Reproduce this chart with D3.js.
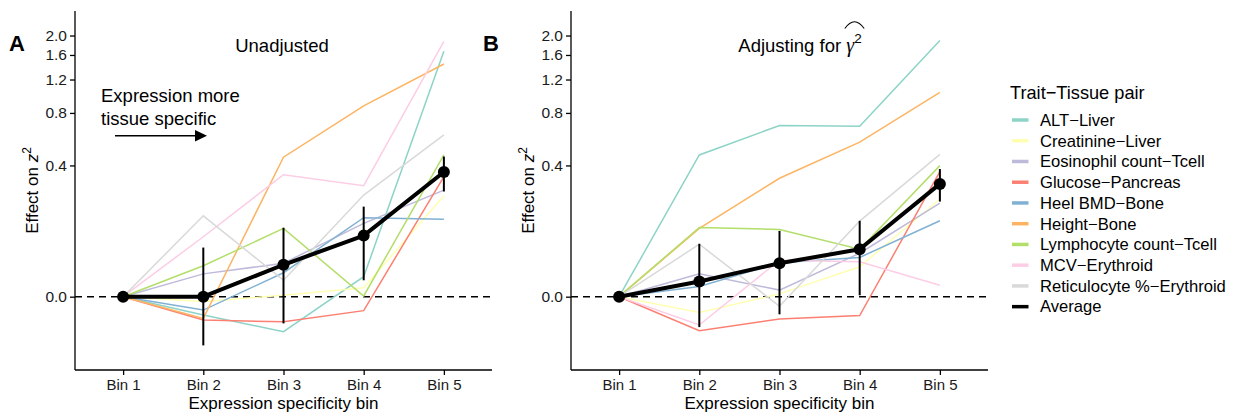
<!DOCTYPE html>
<html><head><meta charset="utf-8">
<script src="https://cdn.jsdelivr.net/npm/d3@7"></script>
<style>body{margin:0;background:#fff}svg{font-family:"Liberation Sans",Arial,Helvetica,sans-serif}</style>
</head><body><svg id="c" width="1241" height="415"></svg>
<script>
// ---------- data ----------
const bins = ["Bin 1", "Bin 2", "Bin 3", "Bin 4", "Bin 5"];
const pairs = ["ALT\u2212Liver", "Creatinine\u2212Liver", "Eosinophil count\u2212Tcell", "Glucose\u2212Pancreas",
  "Heel BMD\u2212Bone", "Height\u2212Bone", "Lymphocyte count\u2212Tcell", "MCV\u2212Erythroid", "Reticulocyte %\u2212Erythroid"];
const pairColors = ["#8DD3C7", "#FFFFB3", "#BEBADA", "#FB8072", "#80B1D3", "#FDB462", "#B3DE69", "#FCCDE5", "#D9D9D9"];
const yTickValues = [0, 0.4, 0.8, 1.2, 1.6, 2.0];

// Panel A: unadjusted
const unadjALT = [0, -0.028, -0.059, 0.031, 1.67];
const unadjCreatinine = [0, -0.007, 0.002, 0.013, 0.253];
const unadjEosinophil = [0, 0.036, 0.056, 0.155, 0.277];
const unadjGlucose = [0, -0.037, -0.040, -0.021, 0.34];
const unadjHeelBMD = [0, -0.020, 0.038, 0.173, 0.168];
const unadjHeight = [0, -0.034, 0.449, 0.874, 1.44];
const unadjLymphocyte = [0, 0.051, 0.140, 0.001, 0.463];
const unadjMCV = [0, 0.117, 0.350, 0.297, 1.87];
const unadjReticulocyte = [0, 0.179, 0.025, 0.256, 0.606];
const unadjAverage = [0, 0.0, 0.053, 0.120, 0.364];
const unadjLower = [0, -0.089, -0.043, 0.025, 0.271];
const unadjUpper = [0, 0.090, 0.142, 0.211, 0.453];

// Panel B: adjusting for gamma-hat^2
const adjALT = [0, 0.463, 0.683, 0.676, 1.89];
const adjCreatinine = [0, -0.024, 0.004, 0.049, 0.240];
const adjEosinophil = [0, 0.036, 0.0095, 0.077, 0.224];
const adjGlucose = [0, -0.057, -0.035, -0.029, 0.366];
const adjHeelBMD = [0, 0.015, 0.057, 0.068, 0.163];
const adjHeight = [0, 0.140, 0.332, 0.550, 1.03];
const adjLymphocyte = [0, 0.143, 0.137, 0.086, 0.399];
const adjMCV = [0, -0.046, 0.062, 0.059, 0.017];
const adjReticulocyte = [0, 0.098, -0.014, 0.162, 0.467];
const adjAverage = [0, 0.023, 0.056, 0.086, 0.305];
const adjLower = [0, -0.050, -0.027, 0.002, 0.230];
const adjUpper = [0, 0.099, 0.133, 0.163, 0.380];

const unadjSeries = [unadjALT, unadjCreatinine, unadjEosinophil, unadjGlucose, unadjHeelBMD, unadjHeight, unadjLymphocyte, unadjMCV, unadjReticulocyte];
const adjSeries = [adjALT, adjCreatinine, adjEosinophil, adjGlucose, adjHeelBMD, adjHeight, adjLymphocyte, adjMCV, adjReticulocyte];

// ---------- drawing ----------
const svg = d3.select("#c");
const yTop = 11, yBot = 370;
const y = d3.scaleSymlog().constant(0.13).domain([-0.155, 2.64]).range([yBot, yTop]);

function drawPanel(x0, x1, series, avg, lo, hi, labelX) {
  const g = svg.append("g");
  const x = d3.scalePoint().domain(bins).range([x0, x1]).padding(0.6);

  g.append("line").attr("x1", x0).attr("x2", x1).attr("y1", y(0)).attr("y2", y(0))
    .attr("stroke", "#000").attr("stroke-width", 1.5).attr("stroke-dasharray", "7,5");

  const line = d3.line().x((d, i) => x(bins[i])).y(d => y(d));
  series.forEach((s, k) => {
    g.append("path").attr("d", line(s)).attr("fill", "none")
      .attr("stroke", pairColors[k]).attr("stroke-width", 1.5);
  });

  g.selectAll(".eb").data(bins.slice(1)).enter().append("line")
    .attr("x1", d => x(d)).attr("x2", d => x(d))
    .attr("y1", (d, i) => y(lo[i + 1])).attr("y2", (d, i) => y(hi[i + 1]))
    .attr("stroke", "#000").attr("stroke-width", 2);

  g.append("path").attr("d", line(avg)).attr("fill", "none")
    .attr("stroke", "#000").attr("stroke-width", 4).attr("stroke-linejoin", "round");
  g.selectAll(".pt").data(avg).enter().append("circle")
    .attr("cx", (d, i) => x(bins[i])).attr("cy", d => y(d)).attr("r", 6).attr("fill", "#000");

  const ya = g.append("g").attr("transform", `translate(${x0},0)`)
    .call(d3.axisLeft(y).tickValues(yTickValues).tickFormat(d3.format(".1f")).tickSize(5).tickSizeOuter(0));
  const xa = g.append("g").attr("transform", `translate(0,${yBot})`)
    .call(d3.axisBottom(x).tickSize(5).tickSizeOuter(0).tickPadding(4));
  [ya, xa].forEach(a => {
    a.select(".domain").attr("stroke", "#000").attr("stroke-width", 1.3);
    a.selectAll(".tick line").attr("stroke", "#000").attr("stroke-width", 1.3);
    a.selectAll("text").attr("fill", "#1a1a1a").attr("font-family", "Liberation Sans, Arial, sans-serif");
  });
  ya.selectAll("text").attr("font-size", 15.5).attr("x", -8);
  xa.selectAll("text").attr("font-size", 15);
  ya.select(".domain").attr("d", `M0,${yTop}V${yBot}`);
  xa.select(".domain").attr("d", `M${x0},0H${x1}`);

  g.append("text").attr("x", (x0 + x1) / 2).attr("y", 409).attr("text-anchor", "middle")
    .attr("font-size", 17).attr("fill", "#000").text("Expression specificity bin");
  const yt = g.append("text").attr("transform", `translate(${labelX},${(yTop + yBot) / 2}) rotate(-90)`)
    .attr("text-anchor", "middle").attr("font-size", 17).attr("fill", "#000");
  yt.append("tspan").text("Effect on ");
  yt.append("tspan").attr("font-style", "italic").text("z");
  yt.append("tspan").attr("font-size", 12).attr("dy", -7).text("2");
  return x;
}

drawPanel(75, 492, unadjSeries, unadjAverage, unadjLower, unadjUpper, 38);
drawPanel(571, 988, adjSeries, adjAverage, adjLower, adjUpper, 534);

svg.append("text").attr("x", 9).attr("y", 51).attr("font-size", 22).attr("font-weight", "bold").text("A");
svg.append("text").attr("x", 483).attr("y", 51).attr("font-size", 22).attr("font-weight", "bold").text("B");

svg.append("text").attr("x", 282).attr("y", 52).attr("text-anchor", "middle").attr("font-size", 18.5).text("Unadjusted");
const t2 = svg.append("text").attr("x", 800).attr("y", 52).attr("text-anchor", "middle").attr("font-size", 18.5);
t2.append("tspan").text("Adjusting for ");
t2.append("tspan").attr("font-family", "Liberation Serif, serif").attr("font-style", "italic").attr("font-size", 20).text("\u03B3");
t2.append("tspan").attr("font-size", 13.5).attr("dy", -9).text("2");
{
  const n = t2.node();
  const len = n.getNumberOfChars();
  const s = n.getStartPositionOfChar(len - 2).x, e = n.getEndPositionOfChar(len - 1).x;
  svg.append("path").attr("d", `M${s - 1.5},28.5 Q${(s + e) / 2 + 0.5},15 ${e + 2.5},28.5`)
    .attr("fill", "none").attr("stroke", "#000").attr("stroke-width", 1.1);
}

svg.append("text").attr("x", 101).attr("y", 102).attr("font-size", 18.5).text("Expression more");
svg.append("text").attr("x", 101).attr("y", 125).attr("font-size", 18.5).text("tissue specific");
svg.append("line").attr("x1", 115).attr("x2", 197).attr("y1", 135.7).attr("y2", 135.7).attr("stroke", "#000").attr("stroke-width", 1.6);
svg.append("path").attr("d", "M195,130 L207,135.7 L195,141.4 Z").attr("fill", "#000");

const lg = svg.append("g");
lg.append("text").attr("x", 1010).attr("y", 99).attr("font-size", 18.2).text("Trait\u2212Tissue pair");
const legItems = pairs.concat(["Average"]);
const legColors = pairColors.concat(["#000"]);
legItems.forEach((name, i) => {
  const cy = 120 + i * 20.74;
  lg.append("line").attr("x1", 1012).attr("x2", 1028.5).attr("y1", cy).attr("y2", cy)
    .attr("stroke", legColors[i]).attr("stroke-width", 3.5);
  lg.append("text").attr("x", 1040).attr("y", cy).attr("dy", "0.35em").attr("font-size", 16.6).text(name);
});
</script></body></html>
